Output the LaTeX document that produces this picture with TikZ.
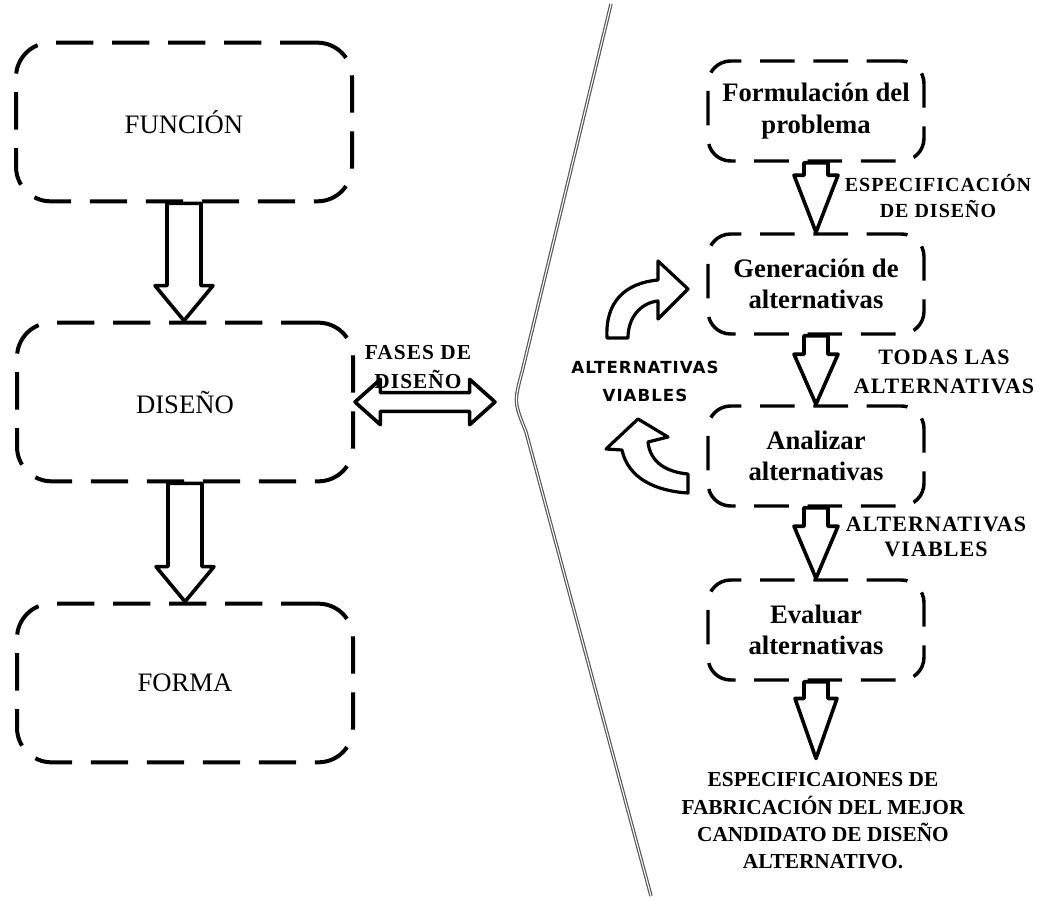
\documentclass[tikz,border=0pt]{standalone}
\usepackage{fontspec}
\setmainfont{Liberation Serif}
\newfontfamily\labelserif[LetterSpace=5]{Liberation Serif}
\newfontfamily\labelsans[LetterSpace=6]{DejaVu Sans}
\usetikzlibrary{calc}

% vertical hollow block arrow from point #1 down to point #2
% #3 shaft half width, #4 head half width, #5 head length (all in px units)
\newcommand\blockdown[5]{%
  \draw[blockarrow] let \p1=#1, \p2=#2 in
    ({\x1-#3*0.75pt},\y1) -- ({\x1-#3*0.75pt},{\y2+#5*0.75pt})
    -- ({\x1-#4*0.75pt},{\y2+#5*0.75pt}) -- (\x1,\y2)
    -- ({\x1+#4*0.75pt},{\y2+#5*0.75pt}) -- ({\x1+#3*0.75pt},{\y2+#5*0.75pt})
    -- ({\x1+#3*0.75pt},\y1) -- cycle;}

\begin{document}
\begin{tikzpicture}[x=0.75pt,y=-0.75pt,
  bigbox/.style={draw, line width=3pt, dash pattern=on 28pt off 14pt,
    rounded corners=26pt, minimum width=252pt, minimum height=119pt,
    inner sep=0pt, align=center, font=\fontsize{20}{24}\selectfont},
  stagebox/.style={draw, line width=2.6pt, dash pattern=on 26pt off 14pt,
    rounded corners=17pt, minimum width=162pt, minimum height=75pt,
    inner sep=0pt, align=center, font=\bfseries\fontsize{20}{23.5}\selectfont},
  blockarrow/.style={draw, fill=white, line width=2.7pt, line join=round},
  steplabel/.style={align=center, inner sep=0pt, font=\labelserif\bfseries\fontsize{15}{19.5}\selectfont},
  sidelabel/.style={align=center, inner sep=0pt, font=\labelsans\bfseries\fontsize{12.5}{21}\selectfont},
  divider/.style={draw=gray!70!black, line width=0.9pt, double=white, double distance=0.8pt}
]
\useasboundingbox (0,0) rectangle (1050,902);

% ---- left column: function, design, form ----
\node[bigbox] (fun) at (184,122) {FUNCIÓN};
\node[bigbox] (dis) at (185,402) {DISEÑO};
\node[bigbox] (for) at (185,683) {FORMA};

\blockdown{(fun.south)}{(dis.north)}{17}{29}{35}
\blockdown{(dis.south)}{(for.north)}{17}{29}{35}

% ---- dividing line ----
\coordinate (apex) at (495,402);
\draw[divider] (611,4) -- (522,372) .. controls (514,402) .. (526,432) -- (651,896);

% ---- double arrow towards the design phases ----
\draw[blockarrow] let \p1=(dis.east), \p2=(apex) in
  (\x1,\y1) -- ({\x1+19pt},{\y1+17pt}) -- ({\x1+19pt},{\y1+7pt})
  -- ({\x2-19pt},{\y1+7pt}) -- ({\x2-19pt},{\y1+17pt}) -- (\x2,\y1)
  -- ({\x2-19pt},{\y1-17pt}) -- ({\x2-19pt},{\y1-7pt})
  -- ({\x1+19pt},{\y1-7pt}) -- ({\x1+19pt},{\y1-17pt}) -- cycle;
\node[steplabel, font=\labelserif\bfseries\fontsize{16}{22}\selectfont] (fases) at (418,367) {FASES DE\\DISEÑO};

% ---- right column: design phases ----
\node[stagebox] (s1) at (816,111) {Formulación del\\problema};
\node[stagebox] (s2) at (816,284) {Generación de\\alternativas};
\node[stagebox] (s3) at (816,456) {Analizar\\alternativas};
\node[stagebox] (s4) at (816,630) {Evaluar\\alternativas};

\node[steplabel, font=\bfseries\fontsize{16}{20.5}\selectfont] (out) at (823,821)
  {ESPECIFICAIONES DE\\FABRICACIÓN DEL MEJOR\\CANDIDATO DE DISEÑO\\ALTERNATIVO.};

\blockdown{(s1.south)}{(s2.north)}{12}{22}{57}
\blockdown{(s2.south)}{(s3.north)}{12}{22}{50}
\blockdown{(s3.south)}{(s4.north)}{12}{22}{52}
\blockdown{(s4.south)}{($(out.north)+(0,-14)$)}{12}{21}{60}

\node[steplabel] (l1) at (938,196) {ESPECIFICACIÓN\\DE DISEÑO};
\node[steplabel, font=\labelserif\bfseries\fontsize{16.5}{22}\selectfont] (l2) at (944,372) {TODAS LAS\\ALTERNATIVAS};
\node[steplabel, font=\labelserif\bfseries\fontsize{16.5}{19}\selectfont] (l3) at (936,537) {ALTERNATIVAS\\VIABLES};

% ---- feedback loop of viable alternatives ----
\node[sidelabel] (viab) at (645,381) {ALTERNATIVAS\\VIABLES};

\draw[blockarrow, line width=2.4pt]
  (607,338) .. controls (605,302) and (625,283) .. (658,280)
  -- (658,261) -- (688,289) -- (658,319) -- (658,301)
  .. controls (640,303) and (628,318) .. (628,338) -- cycle;

\draw[blockarrow, line width=2.4pt]
  (638,419) -- (606,449) -- (622,450)
  .. controls (628,478) and (655,491) .. (688,493)
  -- (688,474) .. controls (666,472) and (650,462) .. (648,442)
  -- (668,437) -- cycle;
\end{tikzpicture}
\end{document}
